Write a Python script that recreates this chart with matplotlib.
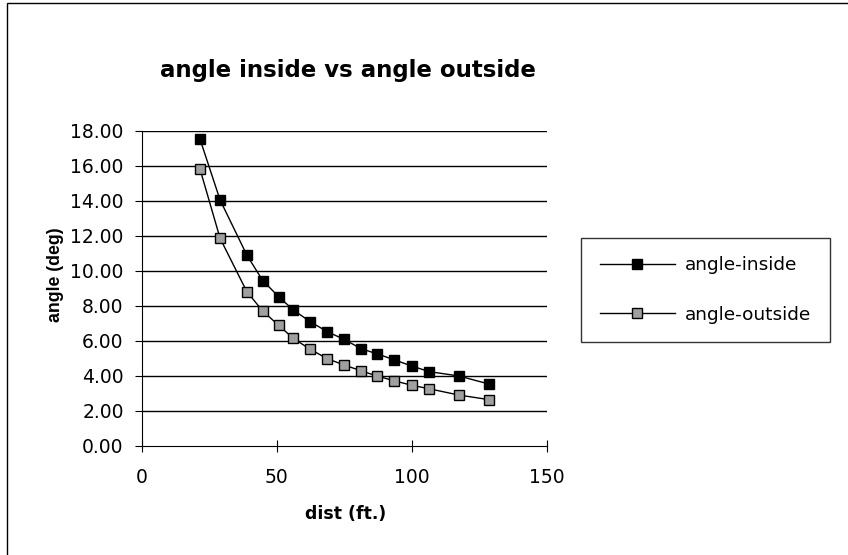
import matplotlib
matplotlib.use("Agg")
import matplotlib.pyplot as plt
from matplotlib.patches import Rectangle

plt.rcParams['font.family'] = ['DejaVu Sans']

# data
dist = [21.6, 29.0, 38.9, 44.8, 50.7, 56.1, 62.4, 68.7, 74.8, 81.2, 87.0, 93.4, 99.9, 106.4, 117.4, 128.5]
angle_inside = [17.52, 14.06, 10.91, 9.45, 8.53, 7.77, 7.10, 6.53, 6.10, 5.56, 5.27, 4.93, 4.57, 4.25, 4.00, 3.54]
angle_outside = [15.81, 11.87, 8.82, 7.71, 6.89, 6.15, 5.52, 4.99, 4.63, 4.30, 4.00, 3.73, 3.47, 3.27, 2.91, 2.65]
yticks = [0, 2, 4, 6, 8, 10, 12, 14, 16, 18]
xticks = [0, 50, 100, 150]

fig = plt.figure(figsize=(8.48, 5.55), dpi=100)
ax = fig.add_axes([0.1671, 0.1964, 0.478, 0.5676])

ax.plot(dist, angle_inside, color='black', lw=1, marker='s', ms=7,
        mfc='black', mec='black', label='angle-inside')
ax.plot(dist, angle_outside, color='black', lw=1, marker='s', ms=7,
        mfc='#a0a0a0', mec='black', mew=1, label='angle-outside')

ax.set_xlim(0, 150)
ax.set_ylim(0, 18)
ax.set_yticks(yticks)
ax.set_yticklabels(['%.2f' % v for v in yticks])
ax.set_xticks(xticks)
for v in yticks[1:]:
    ax.axhline(v, color='black', lw=1, zorder=0)

for s in ['top', 'right']:
    ax.spines[s].set_visible(False)
ax.tick_params(axis='y', direction='out', length=5, labelsize=13.5, pad=8)
ax.tick_params(axis='x', direction='inout', length=8, labelsize=13.5, pad=12)

fig.text(348 / 848, 1 - 70 / 555, 'angle inside vs angle outside',
         fontsize=16.5, fontweight='bold', ha='center', va='center')
fig.text(346 / 848, 1 - 514 / 555, 'dist (ft.)',
         fontsize=12.5, fontweight='bold', ha='center', va='center')
fig.text(55 / 848, 1 - 275 / 555, 'angle (deg)', family='Liberation Sans',
         fontsize=12.7, fontweight='bold', ha='center', va='center', rotation=90)

leg = fig.legend(loc='center', bbox_to_anchor=(705.5 / 848, 1 - 290 / 555),
                 fontsize=13.3, frameon=True, fancybox=False, edgecolor='black',
                 handlelength=4.1, labelspacing=1.7, borderpad=1.0,
                 handletextpad=0.54, borderaxespad=0)
leg.get_frame().set_linewidth(1)

# outer chart border
fig.patches.append(Rectangle((7 / 848, -0.1), 1.0, 1.1 - 3 / 555, transform=fig.transFigure,
                             fill=False, edgecolor='black', lw=1))

fig.savefig('out.png', dpi=100)
